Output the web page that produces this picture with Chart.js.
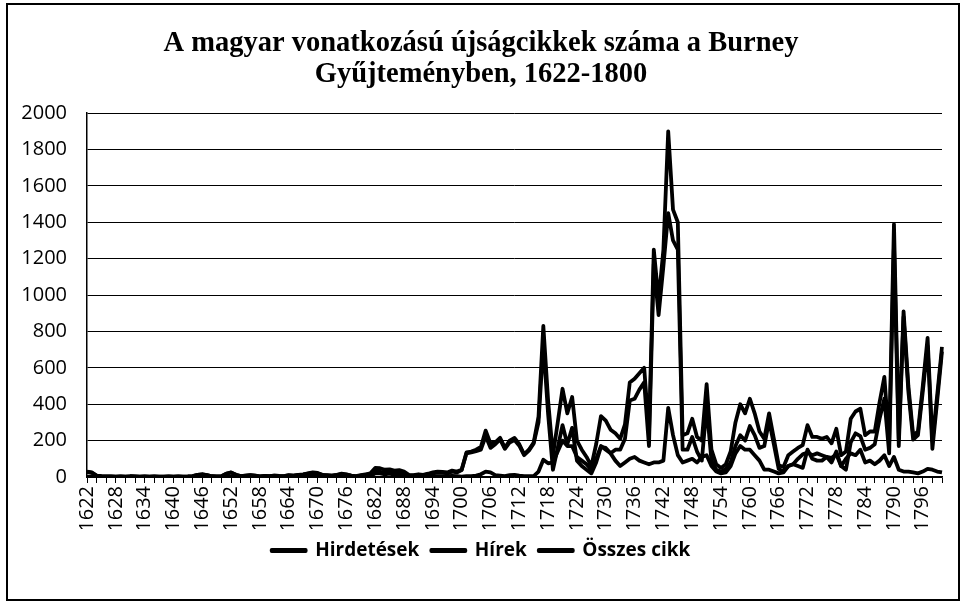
<!DOCTYPE html>
<html>
<head>
<meta charset="utf-8">
<script src="https://cdn.jsdelivr.net/npm/chart.js@4/dist/chart.umd.min.js"></script>
<style>
  html, body { margin: 0; padding: 0; background: #fff; }
  #wrap { width: 965px; height: 606px; position: relative; }
</style>
</head>
<body>
<div id="wrap"><canvas id="burneyChart" width="965" height="606"></canvas></div>
<script>
// years 1622..1800, one point per year
const years = Array.from({ length: 179 }, (_, i) => String(1622 + i));

// Hirdetések (advertisements)
const hirdetesek = [
  2, 2, 0, 0, 0, 0, 0, 0,                       // 1622-1629
  0, 0, 0, 0, 0, 0, 0, 0, 0, 0,                 // 1630s
  0, 0, 0, 0, 0, 0, 0, 0, 0, 0,                 // 1640s
  0, 0, 1, 0, 0, 0, 0, 0, 0, 0,                 // 1650s
  0, 0, 0, 0, 1, 1, 1, 2, 2, 3,                 // 1660s
  2, 1, 1, 1, 1, 2, 2, 1, 1, 2,                 // 1670s
  3, 5, 20, 20, 15, 18, 12, 15, 10, 3,          // 1680s
  2, 3, 2, 3, 5, 5, 4, 5, 6, 5,                 // 1690s
  2, 5, 5, 8, 15, 30, 25, 10, 8, 5,             // 1700s
  10, 12, 8, 5, 5, 5, 30, 95, 75, 80,           // 1710s
  140, 200, 170, 170, 110, 90, 70, 40, 100, 170,// 1720s
  150, 130, 90, 60, 80, 100, 110, 90, 80, 70,   // 1730s
  80, 80, 90, 380, 230, 120, 80, 90, 100, 80,   // 1740s
  110, 120, 60, 30, 20, 25, 60, 130, 170, 150,  // 1750s
  150, 120, 90, 40, 40, 30, 20, 25, 60, 70,     // 1760s
  60, 50, 150, 100, 90, 90, 110, 80, 140, 60,   // 1770s
  100, 130, 120, 150, 80, 90, 70, 90, 120, 60,  // 1780s
  110, 40, 30, 30, 25, 20, 30, 45, 40, 30, 25   // 1790-1800
];

// Hírek (news)
const hirek = [
  28, 23, 8, 5, 3, 3, 2, 3,
  2, 4, 3, 2, 3, 2, 3, 2, 2, 3,
  2, 3, 2, 3, 5, 12, 15, 10, 4, 3,
  5, 18, 24, 12, 5, 8, 10, 8, 4, 6,
  5, 8, 6, 5, 9, 7, 11, 13, 18, 22,
  20, 11, 9, 7, 11, 16, 13, 7, 4, 8,
  12, 15, 30, 28, 25, 24, 23, 23, 20, 9,
  8, 12, 10, 15, 20, 25, 24, 20, 29, 25,
  38, 130, 135, 142, 150, 225, 160, 180, 207, 155,
  190, 203, 172, 120, 145, 185, 300, 735, 345, 40,
  160, 285, 180, 270, 90, 60, 40, 20, 80, 165,
  160, 130, 150, 150, 210, 420, 430, 480, 520, 170,
  1170, 890, 1160, 1450, 1300, 1250, 150, 150, 220, 140,
  90, 390, 90, 40, 30, 45, 80, 170, 230, 200,
  280, 230, 160, 170, 310, 180, 45, 30, 60, 70,
  100, 125, 135, 120, 130, 120, 110, 105, 125, 60,
  40, 190, 240, 225, 150, 160, 180, 320, 430, 130,
  1280, 170, 880, 470, 205, 230, 470, 720, 155, 420, 690
];

// Összes cikk (all articles)
const osszes = [
  30, 25, 8, 5, 3, 3, 2, 3,
  2, 4, 3, 2, 3, 2, 3, 2, 2, 3,
  2, 3, 2, 3, 5, 12, 15, 10, 4, 3,
  5, 18, 25, 12, 5, 8, 10, 8, 4, 6,
  5, 8, 6, 5, 10, 8, 12, 15, 20, 25,
  22, 12, 10, 8, 12, 18, 15, 8, 5, 10,
  15, 20, 50, 48, 40, 42, 35, 38, 30, 12,
  10, 15, 12, 18, 25, 30, 28, 25, 35, 30,
  40, 135, 140, 150, 165, 255, 185, 190, 215, 160,
  200, 215, 180, 125, 150, 190, 330, 830, 420, 120,
  300, 485, 350, 440, 200, 150, 110, 60, 180, 335,
  310, 260, 240, 210, 290, 520, 540, 570, 600, 240,
  1250, 970, 1250, 1900, 1470, 1400, 230, 240, 320, 220,
  200, 510, 150, 70, 50, 70, 140, 300, 400, 350,
  430, 350, 250, 210, 350, 210, 65, 55, 120, 140,
  160, 175, 285, 220, 220, 210, 220, 185, 265, 120,
  140, 320, 360, 375, 230, 250, 250, 410, 550, 190,
  1390, 210, 910, 500, 230, 250, 500, 765, 195, 450, 715
];

const seriesNames = ['Hirdetések', 'Hírek', 'Összes cikk'];
const titleLines = ['A magyar vonatkozású újságcikkek száma a Burney', 'Gyűjteményben, 1622-1800'];

// label every 6th year, tick mark every 2nd
const labelStep = 6;
const tickStep = 2;

function lineSet(label, data) {
    return {
        label: label,
        data: data,
        borderColor: '#000',
        backgroundColor: '#000',
        borderWidth: 3.8,
        pointRadius: 0,
        tension: 0,
        borderJoinStyle: 'round'
    };
}

// outer frame around the whole chart
const framePlugin = {
    id: 'frame',
    afterDraw(chart) {
        const c = chart.ctx;
        c.save();
        c.strokeStyle = '#000';
        c.lineWidth = 2;
        c.strokeRect(7, 4, 952, 596);
        c.restore();
    }
};

const ctx = document.getElementById('burneyChart').getContext('2d');
new Chart(ctx, {
    type: 'line',
    data: {
        labels: years,
        datasets: [
            lineSet(seriesNames[0], hirdetesek),
            lineSet(seriesNames[1], hirek),
            lineSet(seriesNames[2], osszes)
        ]
    },
    options: {
        responsive: false,
        animation: false,
        layout: { padding: { left: 20, right: 23, top: 0, bottom: 36 } },
        plugins: {
            title: {
                display: true,
                text: titleLines,
                color: '#000',
                font: { family: 'Liberation Serif', size: 28.5, weight: 'bold', lineHeight: 1.09 },
                padding: { top: 28, bottom: 23 }
            },
            legend: {
                position: 'bottom',
                labels: {
                    color: '#000',
                    boxWidth: 34,
                    boxHeight: 1,
                    padding: 12,
                    font: { family: 'Open Sans', size: 19, weight: 'bold' }
                }
            },
            tooltip: { enabled: false }
        },
        scales: {
            x: {
                afterFit: s => {
                    s.height = 52;
                    s.paddingLeft = 0;
                    s.paddingRight = 0;
                },
                border: { color: '#000', width: 1.5 },
                grid: {
                    drawOnChartArea: false,
                    tickLength: 6,
                    color: c => (c.index % tickStep === 0 ? '#000' : 'rgba(0,0,0,0)')
                },
                ticks: {
                    autoSkip: false,
                    minRotation: 90,
                    maxRotation: 90,
                    padding: 3,
                    color: '#000',
                    font: { family: 'Open Sans', size: 20 },
                    callback: function (value, index) {
                        return index % labelStep === 0 ? this.getLabelForValue(value) : '';
                    }
                }
            },
            y: {
                min: 0,
                max: 2000,
                afterFit: s => { s.width = 67; },
                border: { color: '#000', width: 1.5 },
                grid: { color: '#000', lineWidth: 1, drawTicks: false },
                ticks: {
                    stepSize: 200,
                    padding: 20,
                    color: '#000',
                    font: { family: 'Open Sans', size: 20 },
                    callback: v => String(v)
                }
            }
        }
    },
    plugins: [framePlugin]
});
</script>
</body>
</html>
